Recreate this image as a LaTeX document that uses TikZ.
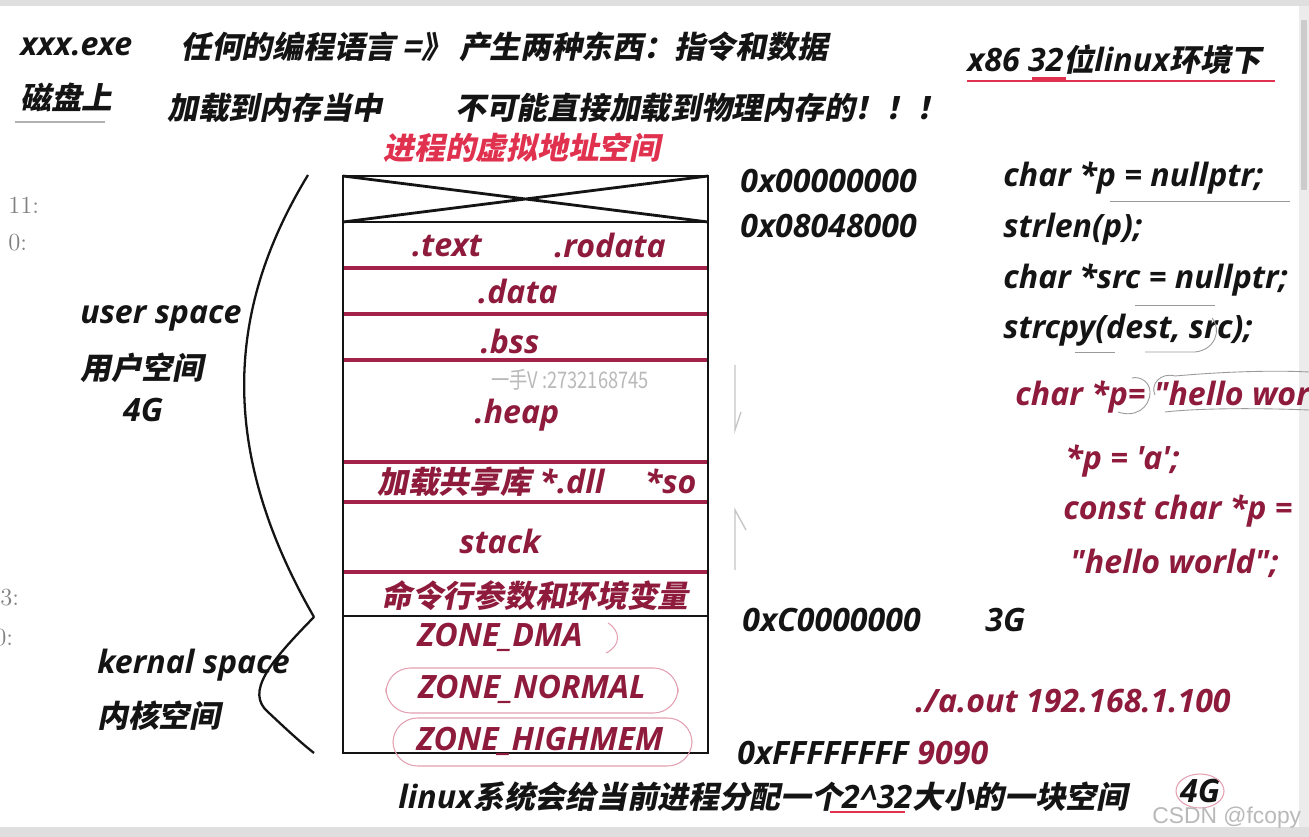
\documentclass[tikz,border=0pt]{standalone}
\usepackage{fontspec}
\newfontfamily\latf{Open Sans}
\IfFontExistsTF{Noto Sans CJK SC Bold}
  {\newfontfamily\zhf{Noto Sans CJK SC Bold}[FakeSlant=0.2,Scale=0.956]}
  {\newfontfamily\zhf{Noto Sans CJK SC}[FakeSlant=0.2,FakeBold=2,Scale=0.956]}
\newfontfamily\zhthin{Noto Sans CJK SC}
\newfontfamily\csdnf{Liberation Sans}
\newcommand{\zh}[1]{{\zhf #1}}
\definecolor{ink}{HTML}{141414}
\definecolor{inkred}{HTML}{8E1B3C}
\definecolor{brightred}{HTML}{E0314F}
\definecolor{linered}{HTML}{A3224A}
\definecolor{ovalpink}{HTML}{E3A1B2}
\definecolor{pencil}{HTML}{9A9A9A}
\begin{document}
\begin{tikzpicture}[x=0.02cm, y=-0.02cm,
  every node/.style={font=\latf\bfseries\itshape\fontsize{18.3}{21}\selectfont, inner sep=0pt, text=ink},
  lbl/.style={anchor=west},
  seg/.style={text=inkred},
  side/.style={anchor=west, font=\rmfamily\fontsize{14}{16}\selectfont, text=gray},
  redline/.style={linered, line width=1.8pt},
  blackline/.style={ink, line width=1.6pt},
  oval/.style={draw=ovalpink, line width=0.6pt, rounded corners=14pt},
  penmark/.style={pencil, line width=0.5pt}]
  \clip (0,0) rectangle (1309,837);
  \fill[white] (0,0) rectangle (1309,837);
  % screen edges
  \fill[gray!25] (0,0) rectangle (1309,6);
  \fill[gray!25] (0,827) rectangle (1309,837);
  \fill[gray!15] (1299,6) rectangle (1309,827);
  \fill[gray!40] (1301,20) rectangle (1307,190);
  % Top: headings
  \node[lbl] (exe) at (20,47) {xxx.exe};
  \node[lbl] (lang) at (180,47) {\zh{任何的编程语言 =》 产生两种东西：指令和数据}};
  \node[lbl] (env) at (967,60) {x86 32\zh{位}linux\zh{环境下}};
  \draw[brightred, line width=1.2pt] (967,81) -- (1275,81);
  \draw[brightred, line width=2.4pt] (1032,79) -- (1066,79);
  \node[lbl] (disk) at (20,98) {\zh{磁盘上}};
  \draw[gray!60, line width=0.8pt] (15,122) -- (105,122);
  \node[lbl] (load) at (167,108) {\zh{加载到内存当中}};
  \node[lbl] (nophys) at (455,108) {\zh{不可能直接加载到物理内存的！！！}};
  \node[text=brightred] (vas) at (522,148) {\zh{进程的虚拟地址空间}};
  % side numbers of the next window
  \node[side] (n11) at (8,205) {11:};
  \node[side] (n0) at (8,243) {0:};
  \node[side] (n3) at (0,598) {3:};
  \node[side] (n0b) at (-6,638) {0:};
  % Middle: the address space
  \draw[blackline] (343,176) -- (708,222) (343,222) -- (708,176);
  \foreach \yy in {268,314,360,462,502,572}
    \draw[redline] (343,\yy) -- (708,\yy);
  \draw[blackline] (343,222) -- (708,222);
  \draw[blackline] (343,616) -- (708,616);
  \draw[blackline] (343,176) rectangle (708,753);
  \node[seg] (text) at (447,246) {.text};
  \node[seg] (rodata) at (610,246) {.rodata};
  \node[seg] (data) at (518,292) {.data};
  \node[seg] (bss) at (510,342) {.bss};
  \node[font=\zhthin\fontsize{13}{15}\selectfont, text=gray!55, xscale=0.8] (wm) at (570,380) {一手V :2732168745};
  \node[seg] (heap) at (517,415) {.heap};
  \node[seg] (dll) at (537,482) {\zh{加载共享库} *.dll\quad\ *so};
  \node[seg] (stack) at (500,541) {stack};
  \node[seg] (argv) at (535,596) {\zh{命令行参数和环境变量}};
  \node[seg] (dma) at (500,637) {ZONE\_DMA};
  \node[seg] (normal) at (532,689) {ZONE\_NORMAL};
  \node[seg] (highmem) at (540,741) {ZONE\_HIGHMEM};
  \draw[ovalpink, line width=0.6pt] (608,623) .. controls (621,631) and (621,646) .. (606,653);
  \draw[oval] (386,668) rectangle (678,713);
  \draw[oval] (393,718) rectangle (692,766);
  % Left: brace and labels
  \draw[ink, line width=1.3pt] (308,175) .. controls (232,300) and (212,440) .. (314,617);
  \draw[ink, line width=1.3pt] (314,617) .. controls (270,662) and (245,692) .. (268,712) .. controls (285,728) and (300,742) .. (314,753);
  \node[lbl] (user) at (80,318) {user space};
  \node[lbl] (userzh) at (80,368) {\zh{用户空间}};
  \node (u4g) at (143,410) {4G};
  \node[lbl] (kern) at (97,665) {kernal space};
  \node[lbl] (kernzh) at (97,716) {\zh{内核空间}};
  % growth marks
  \coordinate (hdtop) at (735,365);
  \coordinate (hdbot) at (735,430);
  \draw[gray!45, line width=0.8pt] (hdtop) -- (hdbot) -- (741,412);
  \coordinate (supbot) at (735,570);
  \coordinate (suptop) at (735,510);
  \draw[gray!45, line width=0.8pt] (supbot) -- (suptop) -- (746,530);
  % Right: addresses
  \node[lbl] (a0) at (740,181) {0x00000000};
  \node[lbl] (a1) at (740,226) {0x08048000};
  \node[lbl] (ac) at (742,620) {0xC0000000};
  \node[lbl] (g3) at (985,620) {3G};
  \node[lbl] (af) at (737,753) {0xFFFFFFFF};
  \node[lbl, seg] (port) at (917,753) {9090};
  \node[lbl, seg] (aout) at (915,701) {./a.out 192.168.1.100};
  % Right: code
  \node[lbl] (c1) at (1003,178) {char *p = nullptr;};
  \draw[penmark] (1110,201) -- (1290,201);
  \node[lbl] (c2) at (1003,229) {strlen(p);};
  \node[lbl] (c3) at (1003,280) {char *src = nullptr;};
  \draw[penmark] (1135,305) -- (1215,305);
  \node[lbl] (c4) at (1003,330) {strcpy(dest, src);};
  \draw[penmark] (1075,352) -- (1115,352);
  \draw[penmark] (1145,352) -- (1195,352) .. controls (1215,350) and (1222,330) .. (1212,318);
  \node[lbl, seg] (r1) at (1015,397) {char *p= "hello world";};
  \draw[penmark] (1118,412) .. controls (1135,418) and (1150,408) .. (1150,392) .. controls (1150,382) and (1140,376) .. (1132,378);
  \draw[penmark] (1165,412) .. controls (1200,408) and (1260,408) .. (1309,410);
  \draw[penmark] (1155,395) .. controls (1150,385) and (1160,372) .. (1175,376) .. controls (1220,372) and (1270,370) .. (1309,372);
  \node[lbl, seg] (r2) at (1065,461) {*p = 'a';};
  \node[lbl, seg] (r3) at (1063,511) {const char *p =};
  \node[lbl, seg] (r4) at (1070,563) {"hello world";};
  % Bottom
  \node[lbl] (alloc) at (398,797) {linux\zh{系统会给当前进程分配一个}2\textasciicircum 32\zh{大小的一块空间}};
  \draw[brightred, line width=1.2pt] (830,812) -- (905,812);
  \node (g4) at (1200,791) {4G};
  \draw[ovalpink, line width=0.6pt] (1200,791) ellipse [x radius=24, y radius=17];
  \node[lbl, font=\csdnf\fontsize{13}{15}\selectfont, text=gray!55] (csdn) at (1152,818) {CSDN @fcopy};
\end{tikzpicture}
\end{document}
